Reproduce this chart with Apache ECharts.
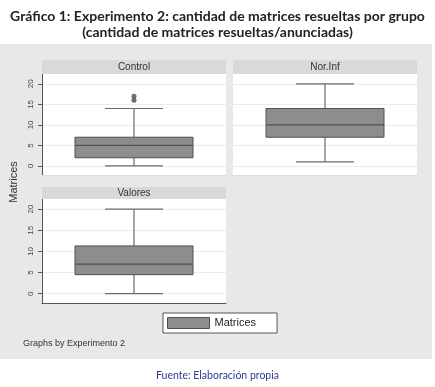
<!DOCTYPE html>
<html>
<head>
<meta charset="utf-8">
<script src="https://cdn.jsdelivr.net/npm/echarts@6/dist/echarts.min.js"></script>
<style>
html,body{margin:0;padding:0;background:#fff;}
#chart{width:435px;height:387px;}
</style>
</head>
<body>
<div id="chart"></div>
<script>
// ---- data ----
const groups = ['Control', 'Nor.Inf', 'Valores'];
const boxMin = [0, 1, 0];
const boxQ1 = [2, 7, 4.5];
const boxMedian = [5, 10, 7];
const boxQ3 = [7, 14, 11.3];
const boxMax = [14, 20, 20];
const controlOutliers = [16, 17];
const yTicks = [0, 5, 10, 15, 20];
const seriesName = 'Matrices';
const titleLines = ['Gráfico 1: Experimento 2: cantidad de matrices resueltas por grupo',
                    '(cantidad de matrices resueltas/anunciadas)'];

const chart = echarts.init(document.getElementById('chart'));

const BG = '#e8e8ea', STRIP = '#d9d9db', BOXFILL = '#8d8d90', BOXLINE = '#505050', WHISK = '#6a6a6a';

function renderBox(params, api) {
  const x = api.value(0);
  const lo = api.coord([x, api.value(1)]);
  const q1 = api.coord([x, api.value(2)]);
  const md = api.coord([x, api.value(3)]);
  const q3 = api.coord([x, api.value(4)]);
  const hi = api.coord([x, api.value(5)]);
  const cx = lo[0];
  const hb = 59, hc = 29;
  const ls = {stroke: WHISK, lineWidth: 1.2};
  return {
    type: 'group',
    children: [
      {type: 'line', shape: {x1: cx, y1: q3[1], x2: cx, y2: hi[1]}, style: ls},
      {type: 'line', shape: {x1: cx, y1: q1[1], x2: cx, y2: lo[1]}, style: ls},
      {type: 'line', shape: {x1: cx - hc, y1: hi[1], x2: cx + hc, y2: hi[1]}, style: ls},
      {type: 'line', shape: {x1: cx - hc, y1: lo[1], x2: cx + hc, y2: lo[1]}, style: ls},
      {type: 'rect', shape: {x: cx - hb, y: q3[1], width: 2 * hb, height: q1[1] - q3[1]},
        style: {fill: BOXFILL, stroke: BOXLINE, lineWidth: 1}},
      {type: 'line', shape: {x1: cx - hb, y1: md[1], x2: cx + hb, y2: md[1]}, style: {stroke: BOXLINE, lineWidth: 1.2}}
    ]
  };
}

const grids = [
  {left: 42, top: 74, width: 184, height: 101},
  {left: 233, top: 74, width: 184, height: 101},
  {left: 42, top: 199, width: 184, height: 104}
];

const xAxes = groups.map((g, i) => ({
  type: 'category', gridIndex: i, data: [g],
  axisLabel: {show: false}, axisTick: {show: false},
  axisLine: {show: true, onZero: false, lineStyle: {color: i === 2 ? '#555' : '#dcdcdc', width: 1}},
  splitLine: {show: false}
}));

const yAxes = groups.map((g, i) => ({
  type: 'value', gridIndex: i, min: -2.2, max: 22.4,
  axisLine: {show: i !== 1, lineStyle: {color: '#555', width: 1}},
  axisTick: {show: i !== 1, length: 4, customValues: yTicks, lineStyle: {color: '#555'}},
  axisLabel: {show: i !== 1, customValues: yTicks, rotate: 90, margin: 7,
    fontSize: 8, color: '#444', fontFamily: 'Liberation Sans'},
  splitLine: {show: true, lineStyle: {color: '#ebebeb', width: 1}}
}));

const series = groups.map((g, i) => ({
  name: seriesName, type: 'custom', xAxisIndex: i, yAxisIndex: i,
  itemStyle: {color: BOXFILL},
  renderItem: renderBox,
  encode: {x: 0, y: [1, 2, 3, 4, 5]},
  data: [[0, boxMin[i], boxQ1[i], boxMedian[i], boxQ3[i], boxMax[i]]],
  z: 3
}));
series.push({
  name: 'outliers', type: 'scatter', xAxisIndex: 0, yAxisIndex: 0,
  symbol: 'circle', symbolSize: 5, itemStyle: {color: '#4a4a4a'},
  data: controlOutliers.map(v => [0, v]), z: 4
});

function strip(x, y, w, h, label) {
  return [
    {type: 'rect', shape: {x: x, y: y, width: w, height: h}, style: {fill: STRIP}, z: 1},
    {type: 'text', x: x + w / 2, y: y + h / 2 + 0.5, z: 2,
      style: {text: label, fill: '#333', font: '10px "Liberation Sans"', align: 'center', verticalAlign: 'middle'}}
  ];
}

const titleStyle = {fontFamily: 'Lato', fontWeight: 'bold', fontSize: 14, color: '#222'};

chart.setOption({
  animation: false,
  backgroundColor: '#fff',
  title: [
    {text: titleLines[0], left: 'center', top: 9, padding: 0, textStyle: titleStyle},
    {text: titleLines[1], left: 'center', top: 25, padding: 0, textStyle: titleStyle},
    {text: 'Fuente: Elaboración propia', left: 'center', top: 370, padding: 0,
      textStyle: {fontFamily: 'Lato', fontWeight: 'normal', fontSize: 10.5, color: '#2e3a92'}}
  ],
  graphic: [
    {type: 'rect', shape: {x: 0, y: 44, width: 432, height: 315}, style: {fill: BG}, z: -10, silent: true},
    ...strip(42, 60, 184, 14, groups[0]),
    ...strip(233, 60, 184, 14, groups[1]),
    ...strip(42, 187, 184, 12, groups[2]),
    {type: 'text', x: 14, y: 182, rotation: Math.PI / 2, z: 2,
      style: {text: 'Matrices', fill: '#333', font: '11px "Liberation Sans"', align: 'center', verticalAlign: 'middle'}},
    {type: 'text', x: 23, y: 343.5, z: 2,
      style: {text: 'Graphs by Experimento 2', fill: '#333', font: '9px "Liberation Sans"', align: 'left', verticalAlign: 'middle'}}
  ],
  legend: {
    data: [{name: seriesName, icon: 'rect',
      itemStyle: {color: BOXFILL, borderColor: BOXLINE, borderWidth: 1}}],
    left: 163, top: 313,
    itemWidth: 42, itemHeight: 11, itemGap: 0,
    padding: [4, 21, 4, 4],
    backgroundColor: '#fff', borderColor: '#555', borderWidth: 1,
    textStyle: {fontFamily: 'Liberation Sans', fontSize: 11, color: '#222'},
    selectedMode: false
  },
  grid: grids.map(g => Object.assign({show: true, backgroundColor: '#fff', borderWidth: 0, containLabel: false}, g)),
  xAxis: xAxes,
  yAxis: yAxes,
  series: series
});
</script>
</body>
</html>
